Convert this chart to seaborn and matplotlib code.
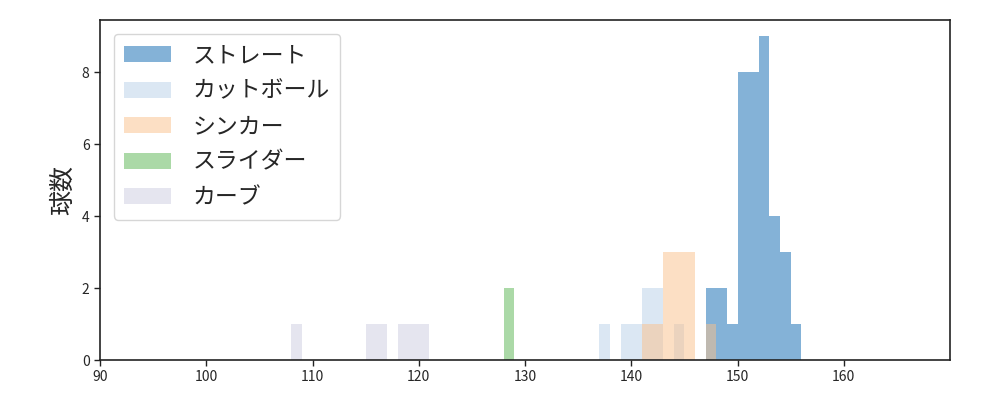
import numpy as np
import pandas as pd
import matplotlib
matplotlib.use("Agg")
import matplotlib.pyplot as plt
import seaborn as sns

# Pitch speeds (km/h), each value v counted in bin [v, v+1)
straight = [147, 147, 148, 148, 149] + [150] * 8 + [151] * 8 + [152] * 9 + [153] * 4 + [154] * 3 + [155]
cutball = [137, 139, 140, 141, 141, 142, 142, 144]
sinker = [141, 142, 143, 143, 143, 144, 144, 144, 145, 145, 145, 147]
slider = [128, 128]
curve = [108, 115, 116, 118, 119, 120]

names = ["ストレート", "カットボール", "シンカー", "スライダー", "カーブ"]
series = [straight, cutball, sinker, slider, curve]
colors = ["#0b67b1", "#b9d1e9", "#fbc18b", "#59b551", "#cdcde1"]

xticks = [90, 100, 110, 120, 130, 140, 150, 160]
yticks = [0, 2, 4, 6, 8]

sns.set_theme(style="ticks")
plt.rcParams["font.family"] = ["Noto Sans CJK JP", "DejaVu Sans"]

fig = plt.figure(figsize=(10, 4), dpi=100)
ax = fig.add_axes([0.1, 0.1, 0.85, 0.85])

edges = np.arange(90, 171, 1)
for name, vals, c in zip(names, series, colors):
    sns.histplot(x=vals, bins=edges, color=c, alpha=0.5, linewidth=0,
                 edgecolor="none", label=name, ax=ax)

ax.set_xlim(90, 170)
ax.set_ylim(0, 9.45)
ax.set_xticks(xticks)
ax.set_yticks(yticks)
ax.tick_params(labelsize=10, direction="out", length=4, width=1, color="#222222")
ax.set_xlabel("")
ax.set_ylabel("球数", fontsize=18)
for s in ax.spines.values():
    s.set_visible(True)
    s.set_color("#222222")
    s.set_linewidth(1.2)

ax.legend(loc="upper left", fontsize=16.5, frameon=True, handlelength=2.05,
          borderpad=0.45, labelspacing=0.55, handletextpad=0.95,
          borderaxespad=0.6)

fig.savefig("out.png", dpi=100)
